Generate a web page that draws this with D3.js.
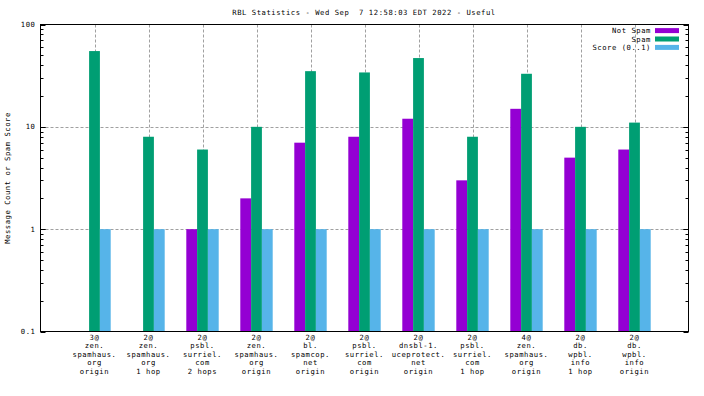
<!DOCTYPE html>
<html>
<head>
<meta charset="utf-8">
<script src="https://cdn.jsdelivr.net/npm/d3@7"></script>
<style>
  body { margin: 0; background: #fff; }
  svg text { font-family: "DejaVu Sans Mono", monospace; font-size: 7.2px; letter-spacing: 0.55px; fill: #000; }
</style>
</head>
<body>
<svg id="chart" width="704" height="396"></svg>
<script>
// x labels, one entry per bar group (lines split on \n)
const categories = [
  "3@\nzen.\nspamhaus.\norg\norigin",
  "2@\nzen.\nspamhaus.\norg\n1 hop",
  "2@\npsbl.\nsurriel.\ncom\n2 hops",
  "2@\nzen.\nspamhaus.\norg\norigin",
  "2@\nbl.\nspamcop.\nnet\norigin",
  "2@\npsbl.\nsurriel.\ncom\norigin",
  "2@\ndnsbl-1.\nuceprotect.\nnet\norigin",
  "2@\npsbl.\nsurriel.\ncom\n1 hop",
  "4@\nzen.\nspamhaus.\norg\norigin",
  "2@\ndb.\nwpbl.\ninfo\n1 hop",
  "2@\ndb.\nwpbl.\ninfo\norigin"
];
const notSpam = [null, null, 1, 2, 7, 8, 12, 3, 15, 5, 6];
const spam    = [55, 8, 6, 10, 35, 34, 47, 8, 33, 10, 11];
const score   = [1, 1, 1, 1, 1, 1, 1, 1, 1, 1, 1];
const seriesNames = ["Not Spam", "Spam", "Score (0..1)"];
const yTicks = [0.1, 1, 10, 100];

const colors = ["#9400d3", "#009e73", "#56b4e9"];
const offsets = [-0.2, 0, 0.2];   // in category units
const barW = 0.2;

const svg = d3.select("#chart");
const plotL = 40.5, plotR = 688.5, plotT = 24.5, plotB = 331.5;

const x = d3.scaleLinear().domain([0, categories.length + 1]).range([plotL, plotR]);
const y = d3.scaleLog().domain([0.1, 100]).range([plotB, plotT]);

// grid
const grid = svg.append("g").attr("stroke", "#a0a0a0").attr("stroke-width", 1).attr("stroke-dasharray", "3,2");
categories.forEach(function(c, i) {
  grid.append("line").attr("x1", Math.round(x(i + 1)) + 0.5).attr("x2", Math.round(x(i + 1)) + 0.5)
      .attr("y1", plotT).attr("y2", plotB);
});
[1, 10].forEach(function(v) {
  grid.append("line").attr("x1", plotL).attr("x2", plotR)
      .attr("y1", Math.round(y(v)) + 0.5).attr("y2", Math.round(y(v)) + 0.5);
});

// bars
[notSpam, spam, score].forEach(function(series, s) {
  svg.append("g").selectAll("rect")
    .data(series.map(function(v, i) { return {v: v, i: i}; }).filter(function(d) { return d.v != null; }))
    .enter().append("rect")
    .attr("x", function(d) { return x(d.i + 1 + offsets[s] - barW / 2); })
    .attr("width", x(barW) - x(0))
    .attr("y", function(d) { return y(d.v); })
    .attr("height", function(d) { return y(0.1) - y(d.v); })
    .attr("fill", colors[s]);
});

// log ticks, left and mirrored on the right
const ticks = svg.append("g").attr("stroke", "#000").attr("stroke-width", 1);
for (let dec = 0.1; dec < 99; dec *= 10) {
  for (let k = 1; k <= 10; k++) {
    const v = dec * k;
    const py = Math.round(y(v)) + 0.5;
    const len = (k === 1 || k === 10) ? 5 : 3;
    ticks.append("line").attr("x1", plotL).attr("x2", plotL + len).attr("y1", py).attr("y2", py);
    ticks.append("line").attr("x1", plotR).attr("x2", plotR - len).attr("y1", py).attr("y2", py);
  }
}

svg.append("g").selectAll("text").data(yTicks).enter().append("text")
  .attr("x", plotL - 5).attr("y", function(d) { return y(d); })
  .attr("dy", "0.35em").attr("text-anchor", "end")
  .text(function(d) { return d; });

// border
svg.append("rect").attr("x", plotL).attr("y", plotT).attr("width", plotR - plotL).attr("height", plotB - plotT)
  .attr("fill", "none").attr("stroke", "#000").attr("stroke-width", 1);

// x labels
categories.forEach(function(c, i) {
  const t = svg.append("text").attr("text-anchor", "middle").attr("y", 340);
  c.split("\n").forEach(function(line, j) {
    t.append("tspan").attr("x", x(i + 1)).attr("dy", j === 0 ? 0 : 8.4).text(line);
  });
});

// title and y label
svg.append("text").attr("x", 364).attr("y", 15).attr("text-anchor", "middle")
  .style("white-space", "pre")
  .text("RBL Statistics - Wed Sep  7 12:58:03 EDT 2022 - Useful");
svg.append("text").attr("transform", "translate(10," + ((plotT + plotB) / 2) + ") rotate(-90)")
  .attr("text-anchor", "middle").text("Message Count or Spam Score");

// legend
const legend = svg.append("g").selectAll("g").data(seriesNames).enter().append("g")
  .attr("transform", function(d, i) { return "translate(0," + (30.6 + i * 8.4) + ")"; });
legend.append("text").attr("x", 651).attr("dy", "0.35em").attr("text-anchor", "end").text(function(d) { return d; });
legend.append("rect").attr("x", 655).attr("y", -2.5).attr("width", 24).attr("height", 5)
  .attr("fill", function(d, i) { return colors[i]; });
</script>
</body>
</html>
